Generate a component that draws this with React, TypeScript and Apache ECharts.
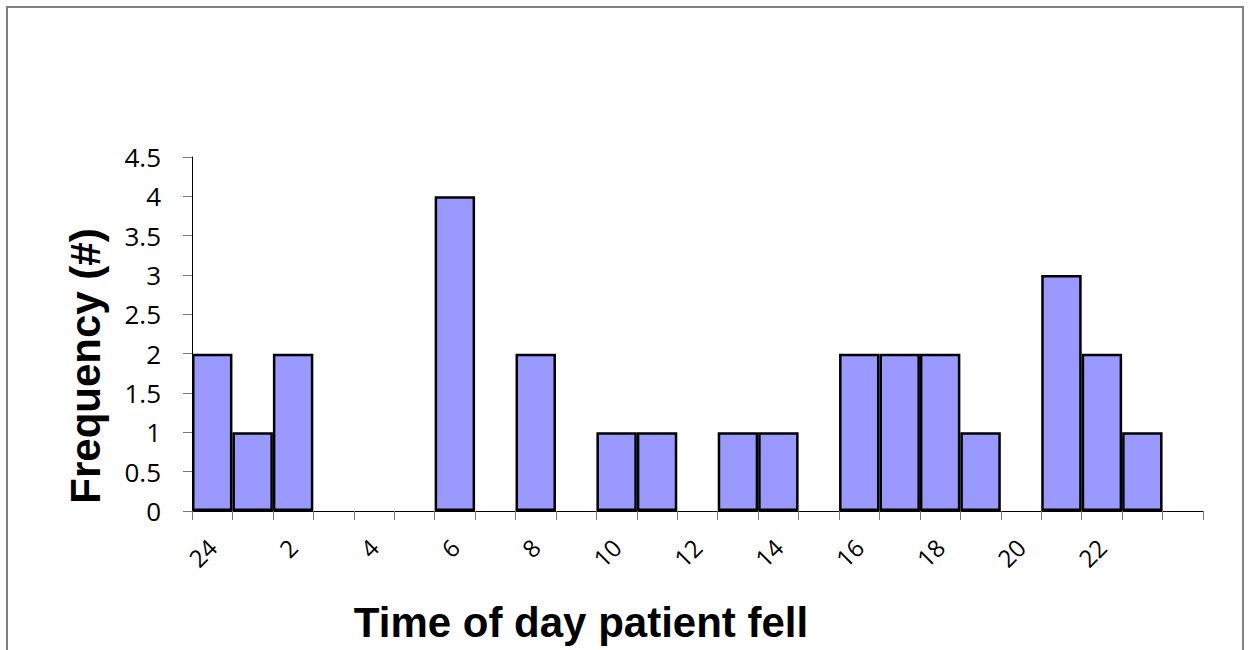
import React, { useEffect, useRef } from "react";
import * as echarts from "echarts";

const categories = ["24", "1", "2", "3", "4", "5", "6", "7", "8", "9", "10", "11", "12", "13", "14", "15", "16", "17", "18", "19", "20", "21", "22", "23", ""];
const frequency = [2, 1, 2, 0, 0, 0, 4, 0, 2, 0, 1, 1, 0, 1, 1, 0, 2, 2, 2, 1, 0, 3, 2, 1, 0];
const xTitle = "Time of day patient fell";
const yTitle = "Frequency (#)";

export default function App() {
  const ref = useRef<HTMLDivElement>(null);
  useEffect(() => {
    if (!ref.current) return;
    const chart = echarts.init(ref.current, null, { renderer: "svg" });
    chart.setOption({
      animation: false,
      backgroundColor: "#ffffff",
      grid: { left: 192, top: 157, right: 47, bottom: 139, containLabel: false },
      xAxis: {
        type: "category",
        data: categories,
        boundaryGap: true,
        axisLine: { show: true, lineStyle: { color: "#000", width: 1 } },
        axisTick: { show: true, interval: 0, length: 9, lineStyle: { color: "#777" } },
        axisLabel: {
          interval: 1,
          rotate: 45,
          margin: 32,
          fontSize: 24,
          fontFamily: "Open Sans",
          color: "#000",
        },
        splitLine: { show: false },
      },
      yAxis: {
        type: "value",
        min: 0,
        max: 4.5,
        interval: 0.5,
        axisLine: { show: true, lineStyle: { color: "#000", width: 1 } },
        axisTick: { show: true, length: 9, lineStyle: { color: "#777" } },
        axisLabel: {
          margin: 31,
          fontSize: 26,
          fontFamily: "Open Sans",
          color: "#000",
        },
        splitLine: { show: false },
      },
      series: [
        {
          type: "bar",
          data: frequency.map((v) => (v === 0 ? null : v)),
          barCategoryGap: "0%",
          itemStyle: { color: "#9999FF", borderColor: "#000", borderWidth: 2.5 },
        },
      ],
      graphic: [
        {
          type: "rect",
          shape: { x: 7, y: 7, width: 1236, height: 700 },
          style: { fill: "none", stroke: "#7f7f7f", lineWidth: 2 },
          silent: true,
        },
        {
          type: "text",
          x: 581,
          y: 622,
          style: {
            text: xTitle,
            fontFamily: "Liberation Sans",
            fontWeight: "bold",
            fontSize: 42,
            fill: "#000",
            align: "center",
            verticalAlign: "middle",
          },
        },
        {
          type: "text",
          x: 85,
          y: 366,
          rotation: Math.PI / 2,
          style: {
            text: yTitle,
            fontFamily: "Liberation Sans",
            fontWeight: "bold",
            fontSize: 42,
            fill: "#000",
            align: "center",
            verticalAlign: "middle",
          },
        },
      ],
    });
    return () => chart.dispose();
  }, []);
  return (
    <div
      ref={ref}
      style={{ position: "fixed", left: 0, top: 0, width: 1250, height: 650 }}
    />
  );
}
